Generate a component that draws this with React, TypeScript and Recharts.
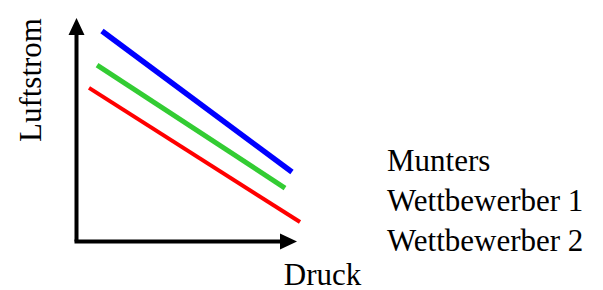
import { Legend, Line, LineChart, XAxis, YAxis } from "recharts";

// each series is a straight line from a start point to an end point
const muntersLine = [
  { x: 11.4, y: 92.9 },
  { x: 96.4, y: 30.7 },
];
const wettbewerber1Line = [
  { x: 9.2, y: 77.9 },
  { x: 93.3, y: 23.6 },
];
const wettbewerber2Line = [
  { x: 5.6, y: 67.8 },
  { x: 100, y: 8.6 },
];

const seriesNames = ["Munters", "Wettbewerber 1", "Wettbewerber 2"];
const xAxisLabel = "Druck";
const yAxisLabel = "Luftstrom";

const FONT = "'Liberation Serif', 'Times New Roman', serif";
const FONT_SIZE = 31;

function LegendText({ payload }: any) {
  return (
    <div
      style={{
        fontFamily: FONT,
        fontSize: FONT_SIZE,
        lineHeight: "40px",
        color: "#000",
        whiteSpace: "nowrap",
      }}
    >
      {(payload || []).map((entry: any) => (
        <div key={entry.value}>{entry.value}</div>
      ))}
    </div>
  );
}

export default function App() {
  return (
    <div style={{ position: "absolute", left: 0, top: 0, background: "#fff" }}>
      <LineChart
        width={603}
        height={290}
        margin={{ top: 15, right: 303, bottom: 47.5, left: 75.5 }}
      >
        <defs>
          <marker
            id="arrowHead"
            viewBox="0 0 17 16"
            refX={20}
            refY={8}
            markerWidth={17}
            markerHeight={16}
            markerUnits="userSpaceOnUse"
            orient="auto-start-reverse"
            overflow="visible"
          >
            <path d="M0,0 L17,8 L0,16 Z" fill="#000" />
          </marker>
        </defs>
        <XAxis
          type="number"
          dataKey="x"
          domain={[0, 100]}
          height={1}
          tick={false}
          tickLine={false}
          axisLine={{
            stroke: "#000",
            strokeWidth: 4,
            strokeLinecap: "square",
            strokeDasharray: "210 1000",
            markerEnd: "url(#arrowHead)",
          }}
          label={{
            content: ({ viewBox }: any) => (
              <text
                x={viewBox.x + viewBox.width + 22.5}
                y={viewBox.y + 43.5}
                textAnchor="middle"
                fontFamily={FONT}
                fontSize={FONT_SIZE}
                fill="#000"
              >
                {xAxisLabel}
              </text>
            ),
          }}
        />
        <YAxis
          type="number"
          dataKey="y"
          domain={[0, 100]}
          width={1}
          tick={false}
          tickLine={false}
          axisLine={{
            stroke: "#000",
            strokeWidth: 4,
            strokeDasharray: "0 14 1000",
            markerStart: "url(#arrowHead)",
          }}
          label={{
            content: () => (
              <text
                x={41}
                y={80}
                transform="rotate(-90 41 80)"
                textAnchor="middle"
                fontFamily={FONT}
                fontSize={FONT_SIZE}
                fill="#000"
              >
                {yAxisLabel}
              </text>
            ),
          }}
        />
        <Legend
          layout="horizontal"
          verticalAlign="middle"
          align="center"
          content={<LegendText />}
          wrapperStyle={{ left: 387, top: 141, width: 216 }}
        />
        <Line
          data={muntersLine}
          dataKey="y"
          name={seriesNames[0]}
          type="linear"
          stroke="#0000ff"
          strokeWidth={5.5}
          dot={false}
          activeDot={false}
          isAnimationActive={false}
        />
        <Line
          data={wettbewerber1Line}
          dataKey="y"
          name={seriesNames[1]}
          type="linear"
          stroke="#33cc33"
          strokeWidth={5}
          dot={false}
          activeDot={false}
          isAnimationActive={false}
        />
        <Line
          data={wettbewerber2Line}
          dataKey="y"
          name={seriesNames[2]}
          type="linear"
          stroke="#ff0000"
          strokeWidth={4}
          dot={false}
          activeDot={false}
          isAnimationActive={false}
        />
      </LineChart>
    </div>
  );
}
